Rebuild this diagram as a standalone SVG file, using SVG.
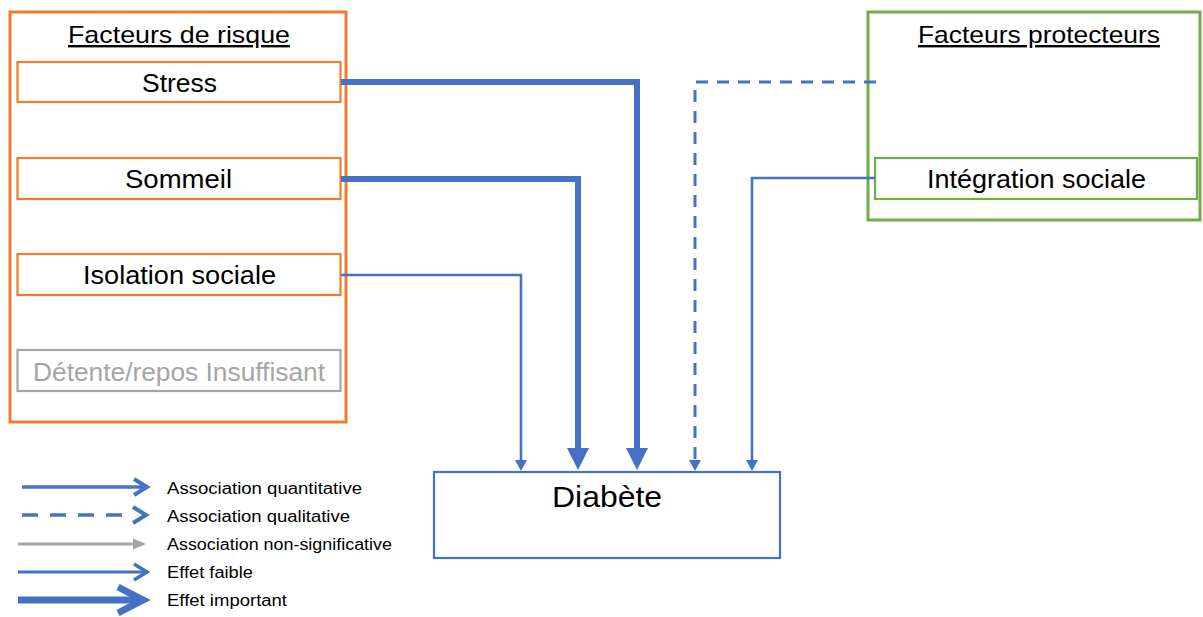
<svg xmlns="http://www.w3.org/2000/svg" width="1203" height="617" viewBox="0 0 1203 617">
<defs>
<style>
.t{font-family:"Liberation Sans",Arial,sans-serif;fill:#000}
.lbl{font-size:25px;text-anchor:start}
.ttl{font-size:24px;text-decoration:underline}
.leg{font-size:16px}
.ob{fill:#fff;stroke:#ED7D31;stroke-width:3}
.oi{fill:#fff;stroke:#ED7D31;stroke-width:2.2}
.gb{fill:#fff;stroke:#70AD47;stroke-width:3}
.gi{fill:#fff;stroke:#70AD47;stroke-width:2.2}
.blue{fill:none;stroke:#4472C4}
</style>
<marker id="big" markerUnits="userSpaceOnUse" viewBox="0 0 22 22" markerWidth="22" markerHeight="22" refX="0" refY="11" orient="auto"><path d="M0,0 L22,11 L0,22 z" fill="#4472C4"/></marker>
<marker id="small" markerUnits="userSpaceOnUse" viewBox="0 0 11 12" markerWidth="11" markerHeight="12" refX="0" refY="6" orient="auto"><path d="M0,0 L11,6 L0,12 z" fill="#4472C4"/></marker>
</defs>
<rect width="1203" height="617" fill="#fff"/>

<g id="risque">
<rect class="ob" x="10" y="12" width="336" height="410"/>
<text class="t ttl" x="68" y="43" textLength="222" lengthAdjust="spacingAndGlyphs">Facteurs de risque</text>
</g>
<g id="stress">
<rect class="oi" x="17.5" y="62" width="323" height="40"/>
<text class="t lbl" x="142" y="92" textLength="75" lengthAdjust="spacingAndGlyphs">Stress</text>
</g>
<g id="sommeil">
<rect class="oi" x="17.5" y="158" width="323" height="41"/>
<text class="t lbl" x="125" y="188" textLength="107" lengthAdjust="spacingAndGlyphs">Sommeil</text>
</g>
<g id="isolation">
<rect class="oi" x="17.5" y="254" width="323" height="41"/>
<text class="t lbl" x="83" y="284" textLength="193" lengthAdjust="spacingAndGlyphs">Isolation sociale</text>
</g>
<g id="detente">
<rect x="17.5" y="350" width="323" height="41" fill="#fff" stroke="#A5A5A5" stroke-width="2.2"/>
<text class="t lbl" x="33" y="381" textLength="292" lengthAdjust="spacingAndGlyphs" style="fill:#A5A5A5">Détente/repos Insuffisant</text>
</g>

<g id="protecteurs">
<rect class="gb" x="868" y="12" width="332" height="208"/>
<text class="t ttl" x="918" y="43" textLength="242" lengthAdjust="spacingAndGlyphs">Facteurs protecteurs</text>
</g>
<g id="integration">
<rect class="gi" x="875" y="158" width="322" height="41"/>
<text class="t lbl" x="927" y="188" textLength="219" lengthAdjust="spacingAndGlyphs">Intégration sociale</text>
</g>

<g id="diabete">
<rect x="434" y="472" width="346" height="86" fill="#fff" stroke="#4472C4" stroke-width="2.2"/>
<text class="t" x="552" y="507" font-size="30" textLength="110" lengthAdjust="spacingAndGlyphs">Diabète</text>
</g>

<g id="connectors">
<path class="blue" d="M341,82 H637 V448" stroke-width="6" marker-end="url(#big)"/>
<path class="blue" d="M341,179 H578 V448" stroke-width="6" marker-end="url(#big)"/>
<path class="blue" d="M341,275 H521 V460" stroke-width="2.6" marker-end="url(#small)"/>
<path class="blue" d="M876,82 H695 V460" stroke-width="3" stroke-dasharray="12,9" marker-end="url(#small)"/>
<path class="blue" d="M875,178 H752 V460" stroke-width="2.6" marker-end="url(#small)"/>
</g>

<g id="legend">
<line x1="22" y1="487" x2="145" y2="487" stroke="#4472C4" stroke-width="3.5"/>
<polyline points="134,479 147,487 134,495" fill="none" stroke="#4472C4" stroke-width="4"/>
<line x1="22" y1="515" x2="126" y2="515" stroke="#4472C4" stroke-width="3.5" stroke-dasharray="16,12"/>
<polyline points="133,507 146,515 133,523" fill="none" stroke="#4472C4" stroke-width="4"/>
<line x1="18" y1="544" x2="136" y2="544" stroke="#A5A5A5" stroke-width="3"/>
<path d="M133,538.5 L146,544 L133,549.5 z" fill="#A5A5A5"/>
<line x1="18" y1="572" x2="145" y2="572" stroke="#4472C4" stroke-width="3.2"/>
<polyline points="134,564 147,572 134,580" fill="none" stroke="#4472C4" stroke-width="3.6"/>
<line x1="18" y1="600" x2="140" y2="600" stroke="#4472C4" stroke-width="7"/>
<polyline points="118,587 143,600 118,613" fill="none" stroke="#4472C4" stroke-width="7"/>
<text class="t leg" x="167" y="494" textLength="195" lengthAdjust="spacingAndGlyphs">Association quantitative</text>
<text class="t leg" x="167" y="522" textLength="183" lengthAdjust="spacingAndGlyphs">Association qualitative</text>
<text class="t leg" x="167" y="550" textLength="225" lengthAdjust="spacingAndGlyphs">Association non-significative</text>
<text class="t leg" x="167" y="578" textLength="86" lengthAdjust="spacingAndGlyphs">Effet faible</text>
<text class="t leg" x="167" y="606" textLength="120" lengthAdjust="spacingAndGlyphs">Effet important</text>
</g>
</svg>
